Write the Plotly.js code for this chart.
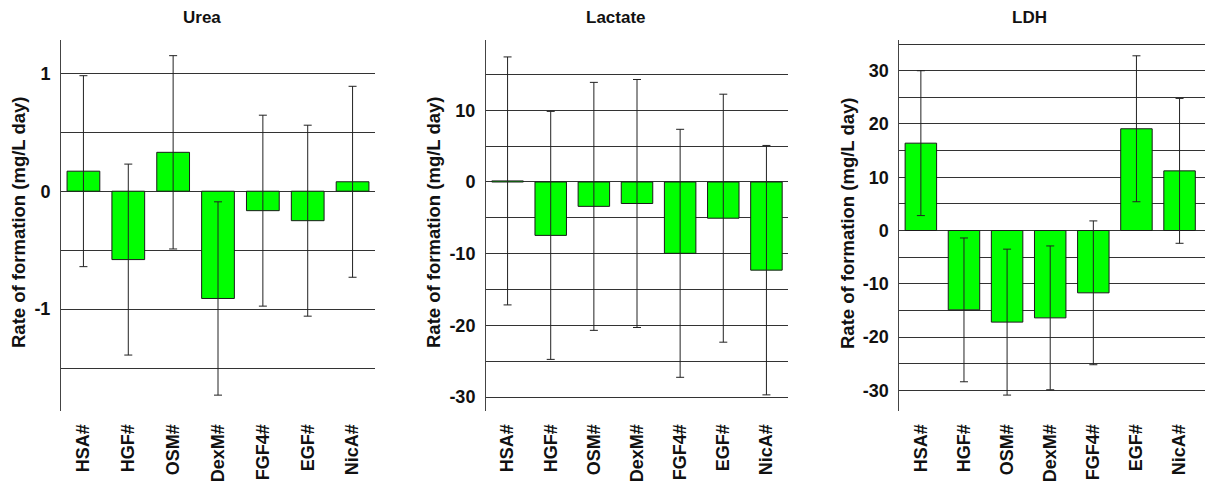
<!DOCTYPE html>
<html>
<head>
<meta charset="utf-8">
<script src="https://cdn.plot.ly/plotly-3.0.1.min.js"></script>
<style>html,body{margin:0;padding:0;background:#fff;}#chart{width:1205px;height:483px;}</style>
</head>
<body>
<div id="chart"></div>
<script>
const categories = ['HSA#', 'HGF#', 'OSM#', 'DexM#', 'FGF4#', 'EGF#', 'NicA#'];

const ureaMean = [0.17, -0.58, 0.33, -0.91, -0.165, -0.25, 0.08];
const ureaErr = [0.81, 0.81, 0.82, 0.82, 0.81, 0.81, 0.81];

const lactateMean = [0.15, -7.45, -3.4, -3.0, -9.95, -5.05, -12.3];
const lactateErr = [17.3, 17.3, 17.3, 17.3, 17.3, 17.3, 17.4];

const ldhMean = [16.4, -14.9, -17.2, -16.4, -11.7, 19.1, 11.2];
const ldhErr = [13.6, 13.5, 13.7, 13.5, 13.5, 13.7, 13.6];

const panelTitles = ['Urea', 'Lactate', 'LDH'];
const yTitle = 'Rate of formation (mg/L day)';

const ureaTicks = [-1.5, -1, -0.5, 0, 0.5, 1];
const ureaTickText = ['', '-1', '', '0', '', '1'];
const lactateTicks = [-30, -25, -20, -15, -10, -5, 0, 5, 10, 15];
const lactateTickText = ['-30', '', '-20', '', '-10', '', '0', '', '10', ''];
const ldhTicks = [-30, -25, -20, -15, -10, -5, 0, 5, 10, 15, 20, 25, 30, 35];
const ldhTickText = ['-30', '', '-20', '', '-10', '', '0', '', '10', '', '20', '', '30', ''];

const FONT = '"Liberation Sans", Arial, Helvetica, sans-serif';

function barTrace(y, err, xa, ya) {
  return {
    type: 'bar', x: categories, y: y, xaxis: xa, yaxis: ya,
    marker: {color: '#00ff00', line: {color: '#1a1a1a', width: 1}},
    error_y: {type: 'data', array: err, visible: true, color: '#222', thickness: 1, width: 4},
    showlegend: false, hoverinfo: 'x+y'
  };
}

const data = [
  barTrace(ureaMean, ureaErr, 'x', 'y'),
  barTrace(lactateMean, lactateErr, 'x2', 'y2'),
  barTrace(ldhMean, ldhErr, 'x3', 'y3')
];

const yDom = [0.1497, 0.9182];

function xAxis(dom, anchor, range) {
  return {
    domain: dom, anchor: anchor, range: range, type: 'category',
    showgrid: false, showline: false, zeroline: false,
    ticks: '', tickangle: -90, ticklabelstandoff: 9,
    tickfont: {family: FONT, size: 18, color: '#111', weight: 'bold'}
  };
}
function yAxis(anchor, range, tv, tt) {
  return {
    domain: yDom, anchor: anchor, range: range,
    tickmode: 'array', tickvals: tv, ticktext: tt,
    showgrid: true, gridcolor: '#333', gridwidth: 1,
    zeroline: false, showline: true, linecolor: '#444', linewidth: 1,
    ticks: '', ticklabelstandoff: 6,
    tickfont: {family: FONT, size: 18, color: '#111', weight: 'bold'}
  };
}

function ann(text, x, y, size, angle) {
  return {
    text: '<b>' + text + '</b>', xref: 'paper', yref: 'paper', x: x, y: y,
    xanchor: 'center', yanchor: 'middle', showarrow: false, textangle: angle || 0,
    font: {family: FONT, size: size, color: '#111'}
  };
}

const layout = {
  width: 1205, height: 483,
  margin: {l: 0, r: 0, t: 0, b: 0},
  paper_bgcolor: '#fff', plot_bgcolor: '#fff',
  bargap: 0.27,
  font: {family: FONT},
  xaxis: xAxis([61 / 1205, 375 / 1205], 'y', [-0.5, 6.5]),
  xaxis2: xAxis([486 / 1205, 788 / 1205], 'y2', [-0.5, 6.5]),
  xaxis3: xAxis([899.3 / 1205, 1], 'y3', [-0.5, 6.59]),
  yaxis: yAxis('x', [-1.862, 1.287], ureaTicks, ureaTickText),
  yaxis2: yAxis('x2', [-31.91, 19.88], lactateTicks, lactateTickText),
  yaxis3: yAxis('x3', [-33.83, 35.86], ldhTicks, ldhTickText),
  annotations: [
    ann(panelTitles[0], 202 / 1205, (483 - 17) / 483, 17),
    ann(panelTitles[1], 616 / 1205, (483 - 17) / 483, 17),
    ann(panelTitles[2], 1029 / 1205, (483 - 17) / 483, 17),
    ann(yTitle, 18 / 1205, (483 - 223) / 483, 18.5, -90),
    ann(yTitle, 433 / 1205, (483 - 223) / 483, 18.5, -90),
    ann(yTitle, 847 / 1205, (483 - 223) / 483, 18.5, -90)
  ]
};

Plotly.newPlot('chart', data, layout, {displayModeBar: false, staticPlot: true});
</script>
</body>
</html>
